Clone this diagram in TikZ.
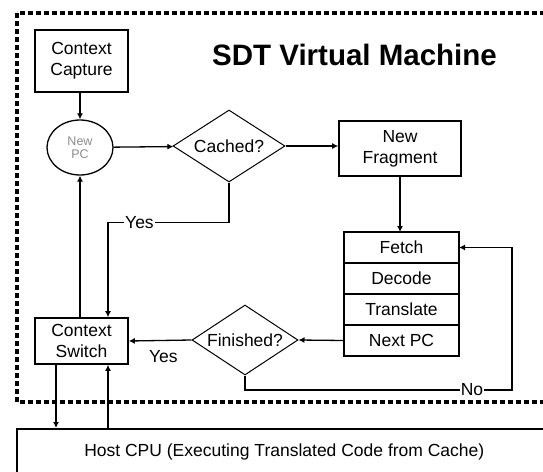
\documentclass[tikz,border=0pt]{standalone}
\usepackage{fontspec}
\setmainfont{Liberation Sans}
\usetikzlibrary{arrows.meta,positioning,shapes.geometric,calc}

\begin{document}
\begin{tikzpicture}[x=1pt, y=-1pt,
  font=\fontsize{17.5}{21}\selectfont,
  box/.style={draw, line width=1.6pt, minimum width=93pt, align=center, inner sep=2pt},
  cell/.style={draw, line width=1.6pt, minimum width=115pt, minimum height=31pt, outer sep=0pt, inner sep=0pt},
  cond/.style={draw, diamond, line width=1pt, inner sep=0pt, aspect=1.6},
  ar/.style={-{Latex[length=6pt,width=6pt]}, line width=1.3pt},
  lbl/.style={fill=white, inner sep=1pt},
]
\useasboundingbox (0,0) rectangle (543,471);
\clip (0,0) rectangle (543,471);

% ---------- virtual machine frame ----------
\draw[line width=4.5pt, dash pattern=on 5pt off 3pt] (17,13) rectangle (580,402);
\node[font=\fontsize{29.5}{32}\selectfont\bfseries] (title) at (354.5,55) {SDT Virtual Machine};

% ---------- nodes ----------
\node[box, minimum height=62pt] (cap) at (81.5,61) {Context\\Capture};
\node[draw, ellipse, line width=1.3pt, minimum width=66pt, minimum height=55pt, inner sep=0pt,
      text=black!45, font=\fontsize{12.5}{13}\selectfont, align=center] (npc) at (80,147.5) {New\\PC};
\node[cond, minimum width=112pt, minimum height=72pt] (cached) at (229,146) {Cached?};
\node[box, minimum width=122pt, minimum height=55pt] (frag) at (400,148.5) {New\\Fragment};
\node[cell] (fetch) at (401.5,247.5) {Fetch};
\node[cell, below=0pt of fetch] (dcd) {Decode};
\node[cell, below=0pt of dcd] (trans) {Translate};
\node[cell, below=0pt of trans] (nxt) {Next PC};
\node[cond, minimum width=106pt, minimum height=70pt] (fin) at (245,340) {Finished?};
\node[box, minimum height=46pt] (sw) at (81.5,341) {Context\\Switch};
\node[draw, line width=1.6pt, anchor=north west, minimum width=535pt, minimum height=46pt]
     (host) at (16,428) {Host CPU (Executing Translated Code from Cache)};

% ---------- connectors ----------
\draw[ar] (cap.south -| npc) -- (npc);
\draw[ar] (npc) -- (cached);
\draw[ar] (cached.east) -- (cached.east -| frag.west);
\draw[ar] (frag) -- (frag |- fetch.north);
\coordinate (swin) at ($(sw.north)+(26.5,0)$);
\draw[ar] (cached.south) -- ++(0,40) -| node[lbl,pos=0.37]{Yes} (swin);
\draw[ar] (sw.north -| npc) -- (npc);
\draw[ar] (nxt.west) -- (fin.east);
\coordinate (loop) at (512,390);
\draw[ar] (fin.south) |- node[lbl,pos=0.925]{No} (loop) |- (fetch.east);
\draw[ar] (fin.west) -- node[below=6pt,pos=0.45]{Yes} (sw.east);

% ---------- host cpu ----------
\coordinate (swout) at ($(sw.south)+(-25.5,0)$);
\coordinate (swret) at ($(sw.south)+(26.5,0)$);
\draw[ar] (swout) -- (swout |- host.north);
\draw[ar] (swret |- host.north) -- (swret);
\end{tikzpicture}
\end{document}
